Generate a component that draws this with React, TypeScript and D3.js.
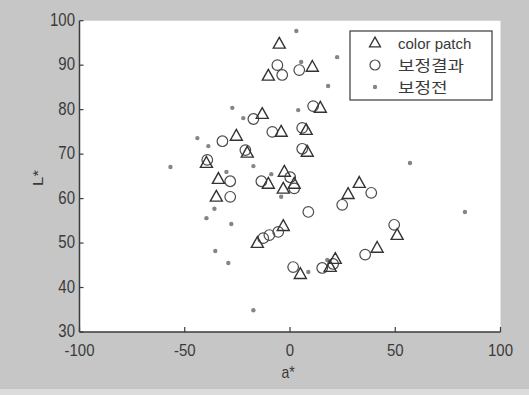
import * as d3 from "d3";

// target colour patches (a*, L*)
const patchA = [-5.1, -10.3, 10.6, -13.2, 14.4, -25.5, -4.2, 7.7, 8.2, -20.3, -39.7, -34.0, -35.0, -10.3, -2.7, -3.2, 2.0, 32.9, 27.6, 50.9, 41.4, 21.5, 19.1, 4.9, -15.5, -3.2];
const patchL = [94.8, 87.6, 89.6, 79.0, 80.4, 74.1, 75.0, 75.4, 70.5, 70.3, 68.0, 64.4, 60.4, 63.3, 66.0, 62.2, 63.3, 63.5, 61.0, 51.8, 48.9, 46.4, 44.6, 43.0, 50.0, 53.8];

// after correction
const afterA = [-6.0, -3.7, 4.4, -17.4, 11.0, -8.4, 5.8, 5.8, -21.2, -32.1, -39.3, -28.4, -28.4, -13.6, 0.1, 2.0, 38.6, 24.8, 8.7, 49.5, 35.7, 15.3, 20.5, 1.5, -12.7, -9.8, -5.6];
const afterL = [90.0, 87.8, 88.9, 77.9, 80.8, 75.0, 75.9, 71.2, 70.9, 72.9, 68.7, 63.9, 60.4, 63.9, 64.8, 62.3, 61.3, 58.6, 57.0, 54.1, 47.4, 44.4, 45.3, 44.6, 51.1, 51.8, 52.5];

// before correction
const beforeA = [3.0, 5.3, 22.4, 18.1, 3.9, -27.4, -22.2, -44.0, -38.8, -56.8, -30.2, -17.4, -8.9, -4.2, -35.9, -39.7, -27.9, -35.5, -29.3, -17.4, 57.0, 83.1, 8.7, 17.7];
const beforeL = [97.7, 90.7, 91.8, 85.3, 79.9, 80.4, 78.1, 73.6, 71.8, 67.1, 66.0, 67.3, 65.5, 60.4, 57.7, 55.6, 54.3, 48.2, 45.5, 34.9, 68.0, 57.0, 43.5, 46.2];

const xTicks = [-100, -50, 0, 50, 100];
const yTicks = [30, 40, 50, 60, 70, 80, 90, 100];
const legendLabels = ["color patch", "보정결과", "보정전"];

const W = 529;
const H = 395;
const ink = "#3a3a3a";
const font = "'Liberation Sans', Arial, sans-serif";
const krFont = "'Noto Sans CJK KR', 'Liberation Sans', sans-serif";

function tri(cx: number, cy: number, s: number) {
  const h = s * 0.9;
  return `M${cx},${cy - h * 0.6}L${cx + s / 2},${cy + h * 0.4}L${cx - s / 2},${cy + h * 0.4}Z`;
}

export default function App() {
  const x = d3.scaleLinear().domain([-100, 100]).range([79.5, 500.5]);
  const y = d3.scaleLinear().domain([30, 100]).range([332, 20.7]);

  const lgX = 350;
  const lgY = 31;
  const rowY = [43, 65, 87];

  return (
    <svg width={W} height={H} style={{ position: "absolute", left: 0, top: 0 }}>
      <rect x={0} y={0} width={W} height={H} fill="#c6c6c6" />
      <rect x={0} y={389} width={W} height={6} fill="#dcdcdc" />
      <rect x={x(-100)} y={y(100)} width={x(100) - x(-100)} height={y(30) - y(100)} fill="#ffffff" />

      {/* axes */}
      <line x1={x(-100)} y1={y(100)} x2={x(-100)} y2={y(30)} stroke={ink} strokeWidth={1.5} />
      <line x1={x(-100)} y1={y(30)} x2={x(100)} y2={y(30)} stroke={ink} strokeWidth={1.5} />
      {yTicks.map((t) => (
        <g key={"y" + t}>
          <line x1={x(-100)} x2={x(-100) + 4} y1={y(t)} y2={y(t)} stroke={ink} strokeWidth={1.2} />
          <text
            transform={`translate(75,${y(t) + 5}) scale(1,1.2)`}
            textAnchor="end"
            fontFamily={font}
            fontSize={15}
            fill={ink}
          >
            {t}
          </text>
        </g>
      ))}
      {xTicks.map((t) => (
        <g key={"x" + t}>
          <line x1={x(t)} x2={x(t)} y1={y(30)} y2={y(30) - 5} stroke={ink} strokeWidth={1.2} />
          <text
            transform={`translate(${x(t)},356) scale(1,1.15)`}
            textAnchor="middle"
            fontFamily={font}
            fontSize={15}
            fill={ink}
          >
            {t}
          </text>
        </g>
      ))}
      <text transform={`translate(288,378) scale(1,1.2)`} textAnchor="middle" fontFamily={font} fontSize={14} fill={ink}>
        a*
      </text>
      <text transform={`translate(43,178) rotate(-90) scale(1.2,1)`} textAnchor="middle" fontFamily={font} fontSize={14} fill={ink}>
        L*
      </text>

      {/* before correction: dots */}
      {beforeA.map((a, i) => (
        <circle key={"d" + i} cx={x(a)} cy={y(beforeL[i])} r={2.2} fill="#858585" />
      ))}
      {/* after correction: circles */}
      {afterA.map((a, i) => (
        <circle key={"c" + i} cx={x(a)} cy={y(afterL[i])} r={5.3} fill="none" stroke="#4a4a4a" strokeWidth={1.2} />
      ))}
      {/* colour patches: triangles */}
      {patchA.map((a, i) => (
        <path key={"t" + i} d={tri(x(a), y(patchL[i]), 12)} fill="none" stroke="#333" strokeWidth={1.4} />
      ))}

      {/* legend */}
      <rect x={lgX} y={lgY} width={142} height={69} fill="#ffffff" stroke={ink} strokeWidth={1.2} />
      <path d={tri(375, rowY[0], 11)} fill="none" stroke="#333" strokeWidth={1.3} />
      <circle cx={375} cy={rowY[1]} r={5} fill="none" stroke="#4a4a4a" strokeWidth={1.2} />
      <circle cx={375} cy={rowY[2]} r={2.2} fill="#858585" />
      {legendLabels.map((l, i) => (
        <text
          key={l}
          transform={`translate(398,${rowY[i] + 6}) scale(${i === 0 ? 1 : 1.2},1)`}
          fontFamily={i === 0 ? font : krFont}
          fontSize={15}
          fill={ink}
        >
          {l}
        </text>
      ))}
    </svg>
  );
}
